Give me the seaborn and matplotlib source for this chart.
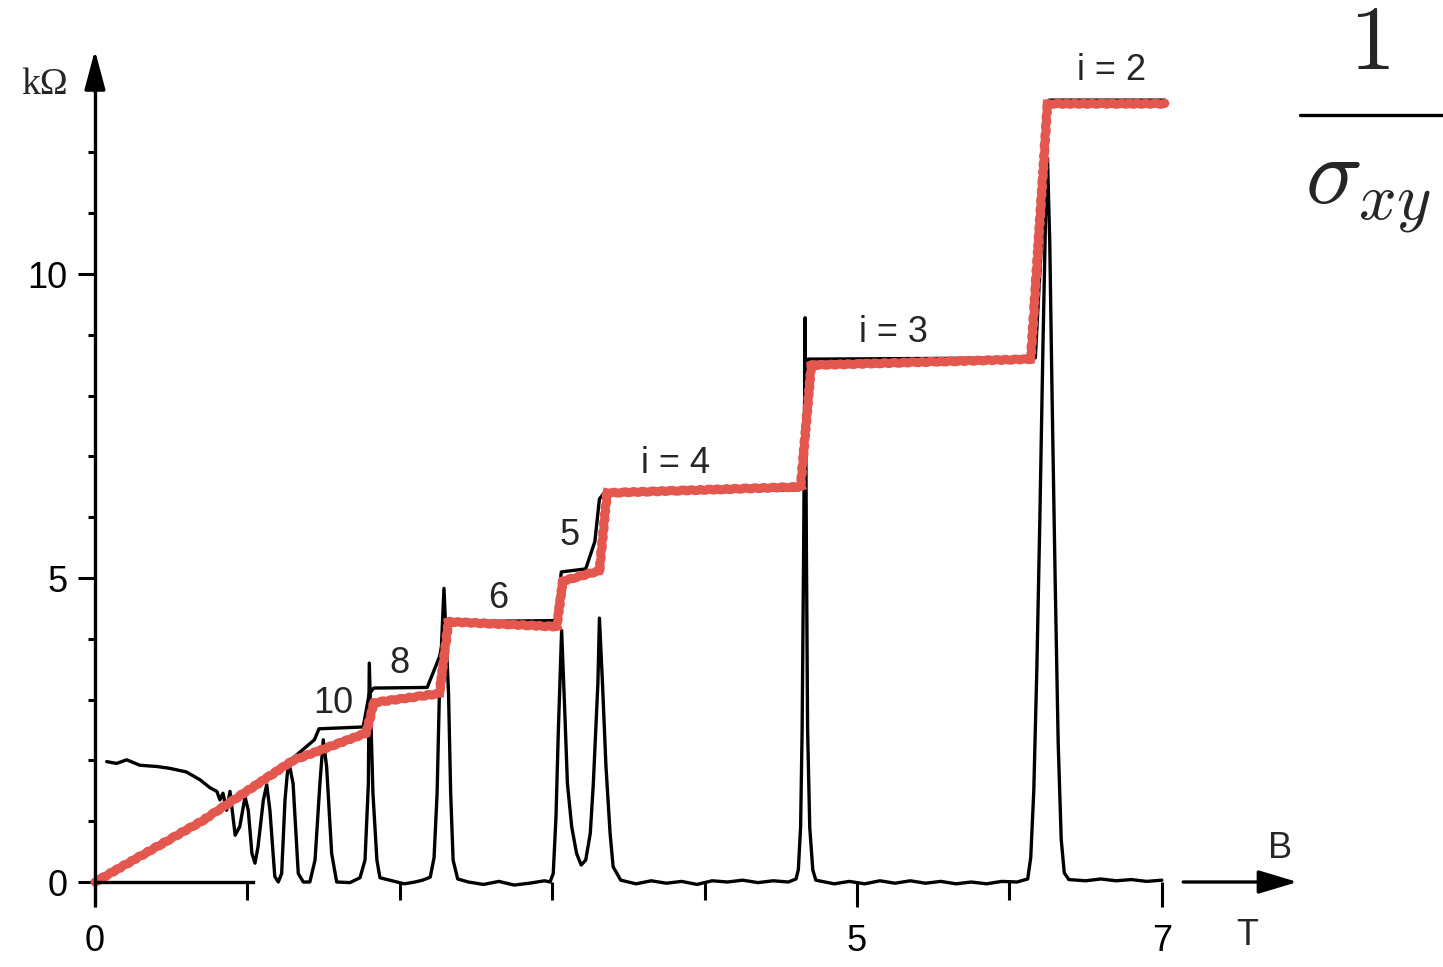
import matplotlib
matplotlib.use("Agg")
import matplotlib.pyplot as plt
import seaborn as sns
from matplotlib.lines import Line2D

# longitudinal resistance R_xx (kOhm) vs B (T)
rxx_B = [0.077, 0.142, 0.208, 0.295, 0.405, 0.49, 0.60, 0.69, 0.755, 0.80, 0.82, 0.84,
         0.864, 0.886, 0.92, 0.95, 0.985, 1.006, 1.03, 1.05, 1.07, 1.105, 1.127, 1.148,
         1.18, 1.203, 1.225, 1.247, 1.27, 1.30, 1.334, 1.367, 1.41, 1.444, 1.476, 1.498,
         1.52, 1.553, 1.586, 1.673, 1.739, 1.772, 1.794, 1.80, 1.824, 1.85, 1.87,
         1.95, 2.03, 2.10, 2.15, 2.20, 2.225, 2.245, 2.26, 2.29, 2.32, 2.334, 2.35, 2.38,
         2.45, 2.55, 2.65, 2.75, 2.85, 2.95, 2.986, 3.007, 3.025, 3.04, 3.062, 3.084,
         3.10, 3.128, 3.16, 3.19, 3.22, 3.25, 3.27, 3.30, 3.31, 3.33, 3.353, 3.38, 3.40,
         3.45, 3.55, 3.65, 3.75, 3.85, 3.95, 4.05, 4.15, 4.25, 4.35, 4.45, 4.55,
         4.60, 4.615, 4.63, 4.64, 4.65, 4.66, 4.668, 4.676, 4.69, 4.71, 4.73,
         4.85, 4.95, 5.05, 5.15, 5.25, 5.35, 5.45, 5.55, 5.65, 5.75, 5.85, 5.95, 6.05, 6.12,
         6.14, 6.16, 6.18, 6.20, 6.22, 6.24, 6.25, 6.265, 6.28, 6.30, 6.32, 6.34, 6.36, 6.39,
         6.5, 6.6, 6.7, 6.8, 6.9, 7.0]
rxx_R = [1.98, 1.95, 2.01, 1.92, 1.90, 1.87, 1.81, 1.68, 1.55, 1.49, 1.35, 1.46,
         1.18, 1.49, 0.77, 0.91, 1.40, 1.18, 0.47, 0.31, 0.58, 1.35, 1.60, 1.18,
         0.09, 0.0, 0.14, 1.35, 2.0, 1.62, 0.14, 0.0, 0.0, 0.36, 1.62, 2.34,
         1.90, 0.47, 0.0, -0.01, 0.07, 0.36, 1.62, 3.6, 1.46, 0.36, 0.07,
         0.02, -0.03, 0.0, 0.03, 0.08, 0.4, 1.46, 3.1, 4.83, 3.1, 1.46, 0.36, 0.05,
         0.0, -0.04, 0.01, -0.05, -0.02, 0.02, 0.0, 0.14, 1.07, 2.45, 4.14, 2.72,
         1.62, 0.91, 0.47, 0.28, 0.36, 0.8, 1.62, 3.27, 4.34, 3.27, 1.9, 0.8, 0.25,
         0.03, -0.03, 0.02, -0.02, 0.01, -0.04, 0.02, 0.0, 0.03, -0.01, 0.02, 0.0,
         0.05, 0.2, 0.9, 2.5, 5.5, 9.28, 5.5, 2.5, 0.9, 0.2, 0.03,
         -0.03, 0.01, -0.03, 0.02, -0.02, 0.02, -0.02, 0.01, -0.03, 0.0, -0.03, 0.01, 0.0, 0.05,
         0.4, 1.5, 3.5, 6.0, 8.8, 11.3, 11.9, 10.5, 8.0, 5.0, 2.3, 0.7, 0.15, 0.04,
         0.02, 0.05, 0.02, 0.04, 0.01, 0.03]

# Hall resistance R_xy (measured, black)
hall_B = [0, 0.7, 1.3, 1.44, 1.47, 1.76, 1.80, 1.83, 2.18, 2.26, 2.31, 3.02, 3.06, 3.22,
          3.28, 3.31, 3.35, 4.62, 4.68, 6.17, 6.26, 7.02]
hall_R = [0, 1.02, 2.04, 2.34, 2.52, 2.55, 3.1, 3.19, 3.2, 3.7, 4.28, 4.3, 5.1, 5.15,
          5.6, 6.3, 6.43, 6.45, 8.6, 8.62, 12.86, 12.86]

# 1/sigma_xy overlay (red)
red_B = [0, 0.7, 1.3, 1.78, 1.83, 2.26, 2.32, 3.03, 3.07, 3.31, 3.36, 4.63, 4.70,
         6.14, 6.25, 7.02]
red_R = [0, 1.0, 2.0, 2.45, 2.95, 3.1, 4.28, 4.2, 4.95, 5.12, 6.4, 6.5, 8.5,
         8.6, 12.8, 12.8]

plateau_labels = ["10", "8", "6", "5", "i = 4", "i = 3", "i = 2"]
label_B = [1.562, 2.001, 2.644, 3.117, 3.806, 5.236, 6.673]
label_R = [2.944, 3.602, 4.671, 5.707, 6.891, 9.046, 13.355]

sns.set_theme(style="white")
plt.rcParams['font.family'] = ['Liberation Sans', 'DejaVu Sans']
plt.rcParams['mathtext.fontset'] = 'cm'

fig = plt.figure(figsize=(14.43, 9.67), dpi=100)
ax = fig.add_axes([0, 0, 1, 1])

sns.lineplot(x=rxx_B, y=rxx_R, sort=False, estimator=None, color="black", lw=2.4, ax=ax)
sns.lineplot(x=hall_B, y=hall_R, sort=False, estimator=None, color="black", lw=2.4, ax=ax)
sns.lineplot(x=red_B, y=red_R, sort=False, estimator=None, color="#e4574f", lw=6.5, ax=ax)
red = ax.lines[-1]
red.set_solid_joinstyle("miter")
red.set_sketch_params(scale=0.5, length=10, randomness=2)

ax.set_xlim(-0.623, 8.845)
ax.set_ylim(-1.398, 14.507)

for s in ["top", "right"]:
    ax.spines[s].set_visible(False)
ax.spines["left"].set_position(("data", 0))
ax.spines["bottom"].set_position(("data", 0))
ax.spines["left"].set_bounds(-0.38, 13.2)
ax.spines["bottom"].set_bounds(0, 1.04)
for s in ["left", "bottom"]:
    ax.spines[s].set_linewidth(2.4)
    ax.spines[s].set_color("black")

ax.set_xticks([0, 5, 7])
ax.set_xticklabels(["0", "5", "7"])
ax.set_xticks([1, 2, 3, 4, 6], minor=True)
ax.set_yticks([0, 5, 10])
ax.set_yticklabels(["0", "5", "10"])
ax.set_yticks([1, 2, 3, 4, 6, 7, 8, 9, 11, 12], minor=True)
ax.tick_params(which="both", bottom=True, left=True, direction="out",
               color="black", width=2.2, labelcolor="black", labelsize=26)
ax.tick_params(axis="x", which="major", length=18, pad=12)
ax.tick_params(axis="x", which="minor", length=13)
ax.tick_params(axis="y", which="major", length=12, pad=8)
ax.tick_params(axis="y", which="minor", length=5)
ax.grid(False)

# axis arrows
ax.annotate("", xy=(0, 13.68), xytext=(0, 13.0),
            arrowprops=dict(arrowstyle="-|>,head_length=1.5,head_width=0.4",
                            mutation_scale=16, color="black", lw=2.4,
                            shrinkA=0, shrinkB=0))
ax.annotate("", xy=(7.89, 0), xytext=(7.14, 0),
            arrowprops=dict(arrowstyle="-|>,head_length=1.5,head_width=0.45",
                            mutation_scale=16, color="black", lw=2.4,
                            shrinkA=0, shrinkB=0))

ax.text(-0.328, 13.11, "kΩ", fontsize=27, family=["Liberation Serif", "DejaVu Serif"],
        ha="center", va="center")
ax.text(7.776, 0.559, "B", fontsize=26, ha="center", va="center")
ax.text(7.56, -0.872, "T", fontsize=26, ha="center", va="center")

for lab, b, r in zip(plateau_labels, label_B, label_R):
    ax.text(b, r, lab, fontsize=26, ha="center", va="center")

# 1/sigma_xy fraction
fig.text(0.949, 0.953, r"$1$", fontsize=66, ha="center", va="center")
fig.add_artist(Line2D([0.901, 1.0], [0.881, 0.881], transform=fig.transFigure,
                      color="black", lw=2.4))
fig.text(0.948, 0.803, r"$\sigma_{xy}$", fontsize=68, ha="center", va="center")

fig.savefig("out.png", dpi=100, facecolor="white")
